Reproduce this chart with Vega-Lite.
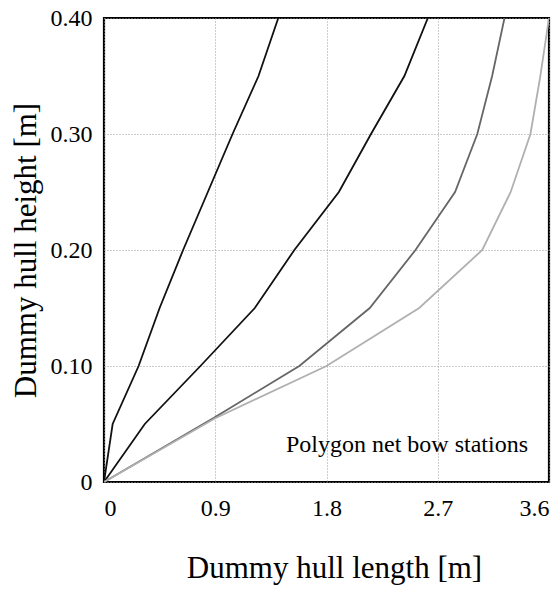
{
  "$schema": "https://vega.github.io/schema/vega-lite/v6.json",
  "width": 445,
  "height": 464,
  "autosize": "none",
  "padding": {"left": 104, "top": 18, "right": 9, "bottom": 113},
  "background": "white",
  "config": {
    "view": {"stroke": "black", "strokeWidth": 2.2},
    "font": "Liberation Serif",
    "axis": {
      "labelFont": "Liberation Serif",
      "titleFont": "Liberation Serif",
      "labelColor": "black",
      "titleColor": "black",
      "titleFontWeight": "normal",
      "domain": false,
      "ticks": false,
      "gridColor": "#999999",
      "gridDash": [1, 2],
      "gridWidth": 1
    }
  },
  "datasets": {
    "curves": [
      {"series": "A", "x": 0, "y": 0},
      {"series": "A", "x": 0.07, "y": 0.05},
      {"series": "A", "x": 0.28, "y": 0.1},
      {"series": "A", "x": 0.45, "y": 0.15},
      {"series": "A", "x": 0.64, "y": 0.2},
      {"series": "A", "x": 0.84, "y": 0.25},
      {"series": "A", "x": 1.04, "y": 0.3},
      {"series": "A", "x": 1.25, "y": 0.35},
      {"series": "A", "x": 1.41, "y": 0.4},
      {"series": "B", "x": 0, "y": 0},
      {"series": "B", "x": 0.33, "y": 0.05},
      {"series": "B", "x": 0.78, "y": 0.1},
      {"series": "B", "x": 1.22, "y": 0.15},
      {"series": "B", "x": 1.54, "y": 0.2},
      {"series": "B", "x": 1.9, "y": 0.25},
      {"series": "B", "x": 2.16, "y": 0.3},
      {"series": "B", "x": 2.43, "y": 0.35},
      {"series": "B", "x": 2.62, "y": 0.4},
      {"series": "C", "x": 0, "y": 0},
      {"series": "C", "x": 0.9, "y": 0.056},
      {"series": "C", "x": 1.58, "y": 0.1},
      {"series": "C", "x": 2.15, "y": 0.15},
      {"series": "C", "x": 2.52, "y": 0.2},
      {"series": "C", "x": 2.84, "y": 0.25},
      {"series": "C", "x": 3.02, "y": 0.3},
      {"series": "C", "x": 3.14, "y": 0.35},
      {"series": "C", "x": 3.24, "y": 0.4},
      {"series": "D", "x": 0, "y": 0},
      {"series": "D", "x": 0.9, "y": 0.055},
      {"series": "D", "x": 1.8, "y": 0.1},
      {"series": "D", "x": 2.55, "y": 0.15},
      {"series": "D", "x": 3.06, "y": 0.2},
      {"series": "D", "x": 3.29, "y": 0.25},
      {"series": "D", "x": 3.45, "y": 0.3},
      {"series": "D", "x": 3.53, "y": 0.35},
      {"series": "D", "x": 3.6, "y": 0.4}
    ],
    "note": [
      {"x": 3.43, "y": 0.026, "label": "Polygon net bow stations"}
    ]
  },
  "layer": [
    {
      "data": {"name": "curves"},
      "mark": {"type": "line", "clip": true},
      "encoding": {
        "x": {
          "field": "x", "type": "quantitative",
          "scale": {"domain": [0, 3.6], "nice": false, "zero": false},
          "axis": {
            "values": [0, 0.9, 1.8, 2.7, 3.6],
            "labelExpr": "datum.value == 0 ? '0' : format(datum.value, '.1f')",
            "labelFontSize": 24,
            "labelPadding": 14,
            "labelFlush": true,
            "title": "Dummy hull length [m]",
            "titleFontSize": 31,
            "titleX": 230,
            "titleY": 95,
            "titleBaseline": "alphabetic"
          }
        },
        "y": {
          "field": "y", "type": "quantitative",
          "scale": {"domain": [0, 0.4], "nice": false, "zero": false},
          "axis": {
            "values": [0, 0.1, 0.2, 0.3, 0.4],
            "labelExpr": "datum.value == 0 ? '0' : format(datum.value, '.2f')",
            "labelFontSize": 24,
            "labelPadding": 12,
            "title": "Dummy hull height [m]",
            "titleFontSize": 31,
            "titlePadding": 8
          }
        },
        "color": {
          "field": "series", "type": "nominal",
          "scale": {"domain": ["A", "B", "C", "D"], "range": ["#111111", "#111111", "#666666", "#b0b0b0"]},
          "legend": null
        },
        "strokeWidth": {
          "field": "series", "type": "nominal",
          "scale": {"domain": ["A", "B", "C", "D"], "range": [1.8, 1.8, 1.5, 1]},
          "legend": null
        }
      }
    },
    {
      "data": {"name": "note"},
      "mark": {"type": "text", "align": "right", "baseline": "alphabetic", "font": "Liberation Serif", "fontSize": 24, "color": "black"},
      "encoding": {
        "x": {"field": "x", "type": "quantitative"},
        "y": {"field": "y", "type": "quantitative"},
        "text": {"field": "label", "type": "nominal"}
      }
    }
  ]
}
